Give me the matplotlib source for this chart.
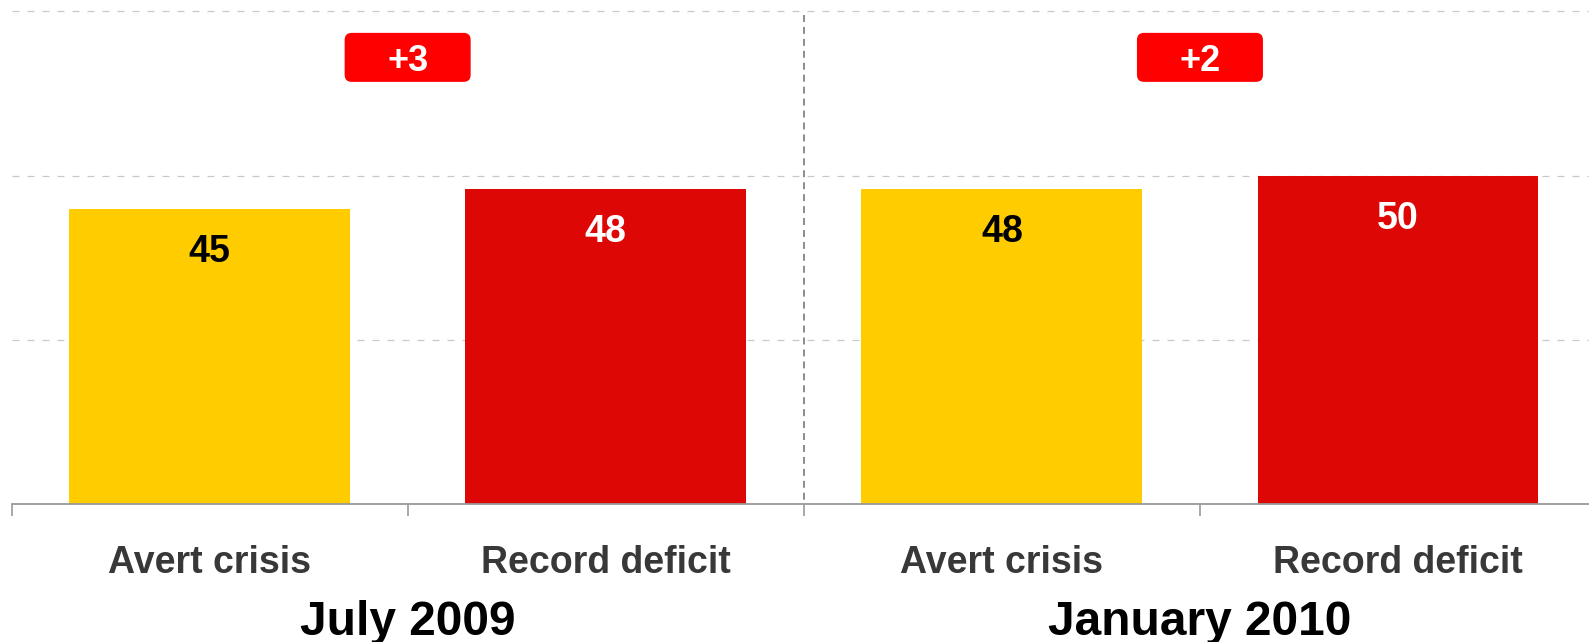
"""Bar chart: Avert crisis vs Record deficit, July 2009 and January 2010."""
import matplotlib
matplotlib.use("Agg")
import matplotlib.pyplot as plt
from matplotlib.patches import FancyBboxPatch
from matplotlib.transforms import IdentityTransform, ScaledTranslation

plt.rcParams.update({'font.family': ['Liberation Sans', 'DejaVu Sans'],
                     'font.weight': 'bold',
                     'lines.scale_dashes': False})

groups = ["July 2009", "January 2010"]
categories = ["Avert crisis", "Record deficit", "Avert crisis", "Record deficit"]
values = [45, 48, 48, 50]
bar_colors = ["#FFCC00", "#DD0806", "#FFCC00", "#DD0806"]
label_colors = ["black", "white", "black", "white"]

DPI = 100
PT = 72 / DPI  # points per pixel

fig = plt.figure(figsize=(15.89, 6.42), dpi=DPI)
# axes runs a bit past the right edge, like the original
ax = fig.add_axes([11.5 / 1589, 0.2145, 1584.6 / 1589, 0.7855])

x = list(range(len(values)))
ax.bar(x, values, width=0.709, color=bar_colors, zorder=2)
ax.set_xlim(-0.5, len(values) - 0.5)
ax.set_ylim(0, 76.73)

# grid
for gy in [25, 50, 75]:
    ax.axhline(gy, color="#C8C8C8", lw=0.9, dashes=(5, 5.8), zorder=1)
# group separator, drawn top-down so the dash pattern starts at the top
ax.plot([1.5, 1.5], [74.5, 0], color="#8C8C8C", lw=1.4, dashes=(5, 3.6),
        zorder=1)

for side in ["top", "right", "left"]:
    ax.spines[side].set_visible(False)
ax.spines["bottom"].set_color("#999999")
ax.spines["bottom"].set_linewidth(1.3)
ax.set_yticks([])
ax.set_xticks([i - 0.5 for i in range(len(values) + 1)])
ax.set_xticklabels([])
ax.tick_params(axis="x", direction="out", length=12 * PT, width=1.2,
               color="#999999")

# value labels inside bars
for xi, v, c in zip(x, values, label_colors):
    ax.annotate(str(v), (xi, v), xytext=(0, -53 * PT),
                textcoords="offset points", ha="center", va="baseline",
                fontsize=27, fontweight="bold", color=c)

# category labels
for xi, cat in zip(x, categories):
    ax.annotate(cat, (xi, 0), xytext=(0, -69 * PT),
                textcoords="offset points", ha="center", va="baseline",
                fontsize=27, fontweight="bold", color="#383838",
                annotation_clip=False)

# group labels and change badges
for g, name in enumerate(groups):
    gx = 2 * g + 0.5
    ax.annotate(name, (gx, 0), xytext=(0, -130.5 * PT),
                textcoords="offset points", ha="center", va="baseline",
                fontsize=34.5, fontweight="bold", color="black",
                annotation_clip=False)

    change = values[2 * g + 1] - values[2 * g]
    by = 68
    trans = IdentityTransform() + ScaledTranslation(gx, by, ax.transData)
    box = FancyBboxPatch((-63, -24.5), 126, 49,
                         boxstyle="round,pad=0,rounding_size=7",
                         facecolor="#FF0000", edgecolor="none",
                         transform=trans, zorder=3, clip_on=False)
    ax.add_patch(box)
    ax.annotate(f"+{change}", (gx, by), xytext=(0, -13.5 * PT),
                textcoords="offset points", ha="center", va="baseline",
                fontsize=26, fontweight="bold", color="white", zorder=4)

fig.savefig("out.png", dpi=DPI)
